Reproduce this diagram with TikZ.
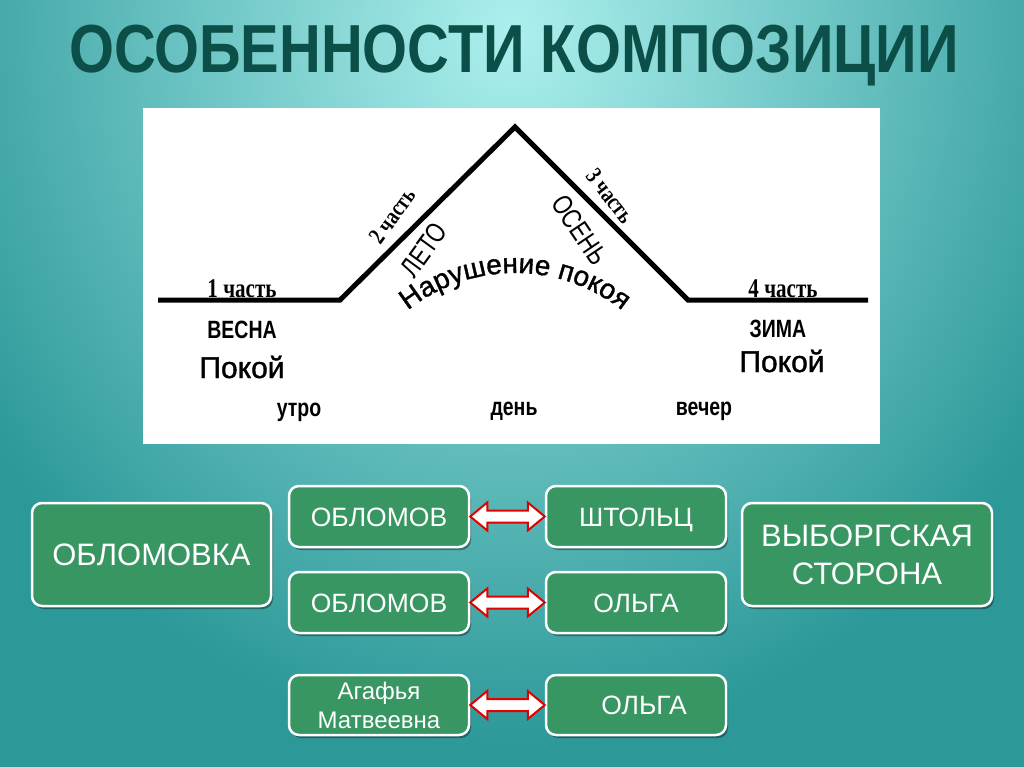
\documentclass[tikz,border=0pt]{standalone}
\usepackage{fontspec}
\setmainfont{Liberation Sans}
\newfontfamily\titlefont[FakeStretch=0.85]{Liberation Sans}
\newfontfamily\narrowsans[FakeStretch=0.78]{Liberation Sans}
\newfontfamily\narrowserif[FakeStretch=0.78]{Liberation Serif}
\newfontfamily\heavysans[FakeBold=1.2]{Liberation Sans}
\usetikzlibrary{shadows,decorations.text,calc}
\definecolor{bginner}{RGB}{172,240,238}
\definecolor{bgouter}{RGB}{44,152,152}
\definecolor{titlecol}{RGB}{12,78,72}
\definecolor{boxgreen}{RGB}{56,150,98}
\definecolor{arrred}{RGB}{226,0,0}
\tikzset{
  gbox/.style={draw=white, line width=2.5pt, fill=boxgreen, rounded corners=10pt,
    drop shadow={shadow xshift=2pt, shadow yshift=-3pt, opacity=0.35, fill=black},
    text=white, align=center, inner sep=0pt},
  smallbox/.style={gbox, minimum width=180pt, minimum height=61pt, font=\fontsize{26.5}{30}\selectfont},
  onerow/.style={text height=19pt, text depth=0pt},
  bigbox/.style={gbox, minimum width=239pt, minimum height=103pt, font=\fontsize{31}{38}\selectfont},
  arrowst/.style={draw=arrred, fill=white, line width=2pt, line join=miter},
  partlbl/.style={font=\narrowserif\bfseries\fontsize{27}{30}\selectfont, anchor=base, inner sep=0pt},
  slopepart/.style={font=\narrowserif\bfseries\fontsize{24}{26}\selectfont, anchor=center, inner sep=0pt},
  seasonlbl/.style={font=\narrowsans\bfseries\fontsize{25}{28}\selectfont, anchor=base, inner sep=0pt},
  slopelbl/.style={font=\narrowsans\fontsize{28}{30}\selectfont, anchor=center, inner sep=0pt},
  restlbl/.style={font=\heavysans\fontsize{30}{34}\selectfont, anchor=base, inner sep=0pt},
  timelbl/.style={font=\narrowsans\bfseries\fontsize{25}{28}\selectfont, anchor=base, inner sep=0pt},
}
\newcommand{\dblarr}[2]{\draw[arrowst] let \p1=(#1.east), \p2=(#2.west) in
  (\x1,\y1) -- ++(17pt,14pt) -- ++(0,-8pt) -- (\x2-17pt,\y1+6pt) -- ++(0,8pt)
  -- (\x2,\y1) -- ++(-17pt,-14pt) -- ++(0,8pt) -- (\x1+17pt,\y1-6pt) -- ++(0,-8pt) -- cycle;}
\begin{document}
\begin{tikzpicture}[x=1pt,y=-1pt]
\useasboundingbox (0,0) rectangle (1024,767);
\begin{scope}
  \clip (0,0) rectangle (1024,767);
  \fill[bgouter] (0,0) rectangle (1024,767);
  \shade[inner color=bginner, outer color=bgouter] (512,30) ellipse [x radius=640, y radius=720];
\end{scope}
% title
\node[font=\titlefont\bfseries\fontsize{68}{72}\selectfont, text=titlecol, inner sep=0pt] (title) at (514,56) {ОСОБЕННОСТИ КОМПОЗИЦИИ};
% panel
\fill[white] (143,108) rectangle (880,444);
\coordinate (m1) at (158,300);
\coordinate (m2) at (340,300);
\coordinate (m3) at (515,127);
\coordinate (m4) at (688,300);
\coordinate (m5) at (868,300);
\draw[line width=5pt, line join=miter] (m1) -- (m2) -- (m3) -- (m4) -- (m5);
\node[partlbl] (p1) at (242,297) {1 часть};
\node[seasonlbl] (vesna) at (242,338) {ВЕСНА};
\node[restlbl] (pokoj1) at (242,378) {Покой};
\node[timelbl] (utro) at (299,416) {утро};
\node[timelbl] (den) at (514,415) {день};
\node[timelbl] (vecher) at (704,415) {вечер};
\node[partlbl] (p4) at (783,297) {4 часть};
\node[seasonlbl] (zima) at (778,337) {ЗИМА};
\node[restlbl] (pokoj2) at (782,372) {Покой};
\node[slopepart, rotate=54] (p2) at (392,216) {2 часть};
\node[slopelbl, rotate=54] (leto) at (424,250) {ЛЕТО};
\node[slopepart, rotate=-52] (p3) at (610,196) {3 часть};
\node[slopelbl, rotate=-56] (osen) at (580,230) {ОСЕНЬ};
\coordinate (arcc) at (515,445);
\path[decorate, decoration={text along path, text align=center,
  text={|\heavysans\fontsize{28}{30}\selectfont|Нарушение покоя}}]
  ($(arcc)+(-132:172)$) arc[start angle=-132, end angle=-48, radius=172];
% boxes
\node[bigbox] (oblomovka) at (151.5,554.5) {ОБЛОМОВКА};
\node[bigbox, minimum width=250pt] (vyborg) at (867,554.5) {ВЫБОРГСКАЯ\\СТОРОНА};
\node[smallbox, onerow] (o1) at (379,516.5) {ОБЛОМОВ};
\node[smallbox, onerow] (s1) at (636,516.5) {ШТОЛЬЦ};
\node[smallbox, onerow] (o2) at (379,602.5) {ОБЛОМОВ};
\node[smallbox, onerow] (l2) at (636,602.5) {ОЛЬГА};
\node[smallbox, minimum height=60pt, font=\fontsize{24}{29}\selectfont] (a3) at (379,705) {Агафья\\Матвеевна};
\node[smallbox, onerow, minimum height=60pt] (l3) at (636,705) {\hspace{16pt}ОЛЬГА};
\dblarr{o1}{s1}
\dblarr{o2}{l2}
\dblarr{a3}{l3}
\end{tikzpicture}
\end{document}
